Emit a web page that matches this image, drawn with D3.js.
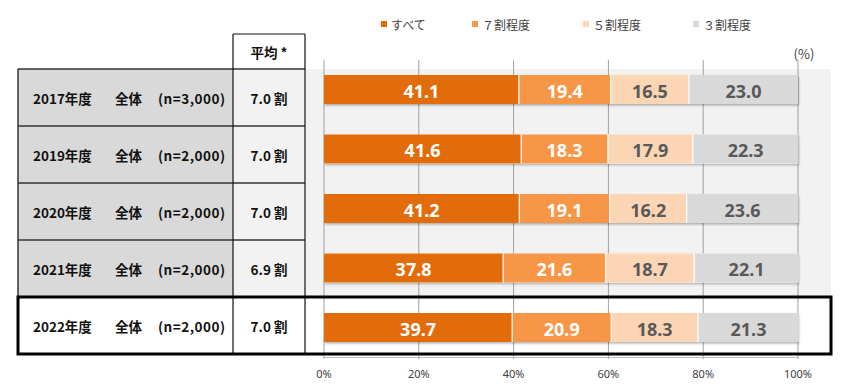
<!DOCTYPE html>
<html><head><meta charset="utf-8">
<script src="https://cdn.jsdelivr.net/npm/d3@7/dist/d3.min.js"></script>
<style>body{margin:0;background:#fff}svg{display:block}</style>
</head><body>
<script>
const years = ["2017年度","2019年度","2020年度","2021年度","2022年度"];
const groupLabel = "全体";
const nLabels = ["(n=3,000)","(n=2,000)","(n=2,000)","(n=2,000)","(n=2,000)"];
const avgLabels = ["7.0 割","7.0 割","7.0 割","6.9 割","7.0 割"];
const seriesNames = ["すべて","７割程度","５割程度","３割程度"];
const sAll  = [41.1, 41.6, 41.2, 37.8, 39.7];
const s70   = [19.4, 18.3, 19.1, 21.6, 20.9];
const s50   = [16.5, 17.9, 16.2, 18.7, 18.3];
const s30   = [23.0, 22.3, 23.6, 22.1, 21.3];
const xTicks = [0,20,40,60,80,100];
const colors = ["#e36c0a","#f79646","#fcd5b5","#d9d9d9"];
const labelColors = ["#ffffff","#ffffff","#595959","#595959"];

const W=850,H=389;
const svg=d3.select("body").append("svg").attr("width",W).attr("height",H);
const defs=svg.append("defs");
const f=defs.append("filter").attr("id","sh").attr("x","-5%").attr("y","-20%").attr("width","110%").attr("height","150%");
f.append("feDropShadow").attr("dx",1).attr("dy",1.5).attr("stdDeviation",1).attr("flood-color","#000").attr("flood-opacity",0.3);

const x=d3.scaleLinear().domain([0,100]).range([324,798]);
const yBar=d3.scalePoint().domain(years).range([89.5,327.5]);
const yRow=d3.scaleBand().domain(years).range([69,354]);
const barH=29;
const cjk="'Noto Sans CJK JP','Noto Sans',sans-serif";

// chart background
svg.append("rect").attr("x",306).attr("y",69).attr("width",525).attr("height",yRow(years[4])-69).attr("fill","#f2f2f2");

// table
const tbl=svg.append("g");
years.forEach((yr,i)=>{
  const last=i===years.length-1;
  tbl.append("rect").attr("x",18).attr("y",yRow(yr)).attr("width",215).attr("height",yRow.bandwidth())
    .attr("fill",last?"#fff":"#d9d9d9");
  tbl.append("rect").attr("x",233).attr("y",yRow(yr)).attr("width",72).attr("height",yRow.bandwidth())
    .attr("fill",last?"#fff":"#f2f2f2");
});
const lineC="#333";
years.forEach((yr,i)=>{
  tbl.append("line").attr("x1",18).attr("x2",305).attr("y1",yRow(yr)).attr("y2",yRow(yr)).attr("stroke",lineC).attr("stroke-width",1.5);
});
tbl.append("line").attr("x1",18).attr("x2",18).attr("y1",69).attr("y2",354).attr("stroke",lineC).attr("stroke-width",1.5);
tbl.append("line").attr("x1",233).attr("x2",233).attr("y1",34).attr("y2",354).attr("stroke","#111").attr("stroke-width",1.2);
tbl.append("line").attr("x1",305).attr("x2",305).attr("y1",34).attr("y2",354).attr("stroke","#111").attr("stroke-width",1.2);
tbl.append("line").attr("x1",233).attr("x2",305).attr("y1",34).attr("y2",34).attr("stroke","#111").attr("stroke-width",1.2);
tbl.append("text").attr("x",269).attr("y",52).attr("text-anchor","middle").attr("dominant-baseline","central")
  .style("font-family",cjk).style("font-weight","bold").style("font-size","13.5px").attr("fill","#111").text("平均 *");

years.forEach((yr,i)=>{
  const cy=yRow(yr)+yRow.bandwidth()/2;
  const g=tbl.append("g").style("font-family",cjk).style("font-weight","bold").style("font-size","13.5px").attr("fill","#111");
  g.append("text").attr("x",33).attr("y",cy).attr("dominant-baseline","central").text(yr);
  g.append("text").attr("x",115).attr("y",cy).attr("dominant-baseline","central").text(groupLabel);
  g.append("text").attr("x",158).attr("y",cy).attr("dominant-baseline","central")
    .attr("textLength",67).attr("lengthAdjust","spacing").text(nLabels[i]);
  g.append("text").attr("x",269).attr("y",cy).attr("text-anchor","middle").attr("dominant-baseline","central").text(avgLabels[i]);
});

// gridlines
svg.append("g").selectAll("line").data(xTicks).join("line")
  .attr("x1",d=>x(d)).attr("x2",d=>x(d)).attr("y1",60).attr("y2",359)
  .attr("stroke","#a0a0a0").attr("stroke-width",1);
svg.append("line").attr("x1",x(0)).attr("x2",x(100)).attr("y1",357.5).attr("y2",357.5).attr("stroke","#bfbfbf");

// bars
const table=years.map((yr,i)=>({yr,vals:[sAll[i],s70[i],s50[i],s30[i]]}));
const bars=svg.append("g");
table.forEach(r=>{
  let acc=0;
  const g=bars.append("g");
  g.append("rect").attr("x",x(0)).attr("y",yBar(r.yr)-barH/2).attr("width",x(100)-x(0)).attr("height",barH)
    .attr("fill","#fff").attr("filter","url(#sh)");
  r.vals.forEach((v,j)=>{
    const x0=x(acc), x1=x(acc+v);
    g.append("rect").attr("x",x0).attr("y",yBar(r.yr)-barH/2).attr("width",x1-x0).attr("height",barH)
      .attr("fill",colors[j]);
    if(j>0) g.append("line").attr("x1",x0).attr("x2",x0).attr("y1",yBar(r.yr)-barH/2).attr("y2",yBar(r.yr)+barH/2)
      .attr("stroke","#fff").attr("stroke-width",1.2);
    g.append("text").attr("x",(x0+x1)/2).attr("y",yBar(r.yr)+1).attr("text-anchor","middle").attr("dominant-baseline","central")
      .style("font-family","'Noto Sans',sans-serif").style("font-weight","bold").style("font-size","18px")
      .attr("fill",labelColors[j]).text(v.toFixed(1));
    acc+=v;
  });
});

// 2022 highlight box
svg.append("rect").attr("x",18).attr("y",yRow(years[4])).attr("width",813).attr("height",yRow.bandwidth())
  .attr("fill","none").attr("stroke","#000").attr("stroke-width",3);

// axis labels
svg.append("g").selectAll("text").data(xTicks).join("text")
  .attr("x",d=>x(d)).attr("y",373).attr("text-anchor","middle").attr("dominant-baseline","central")
  .style("font-family","'Noto Sans',sans-serif").style("font-size","11px").attr("fill","#404040")
  .text(d=>d+"%");
svg.append("text").attr("x",804).attr("y",53).attr("text-anchor","middle").attr("dominant-baseline","central")
  .style("font-family",cjk).style("font-size","13px").attr("fill","#404040").text("(%)");

// legend
const legX=[381,472,583,693];
const leg=svg.append("g");
seriesNames.forEach((n,i)=>{
  leg.append("rect").attr("x",legX[i]).attr("y",21).attr("width",6).attr("height",6).attr("fill",colors[i]);
  leg.append("text").attr("x",legX[i]+10).attr("y",24).attr("dominant-baseline","central")
    .style("font-family",cjk).style("font-size","12px").attr("fill","#404040").text(n);
});
</script>
</body></html>
